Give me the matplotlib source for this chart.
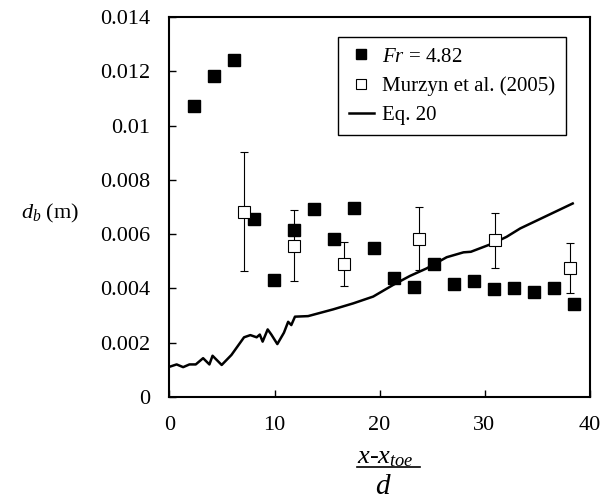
import numpy as np
import matplotlib
matplotlib.use('Agg')
import matplotlib.pyplot as plt
from matplotlib.ticker import FuncFormatter, MultipleLocator
from matplotlib.lines import Line2D

plt.rcParams['font.family'] = 'Liberation Serif'
plt.rcParams['mathtext.fontset'] = 'custom'
plt.rcParams['mathtext.rm'] = 'Liberation Serif'
plt.rcParams['mathtext.it'] = 'Liberation Serif:italic'

# Fr = 4.82 (present data)
x_fr = [2.36, 4.27, 6.14, 8.08, 9.98, 11.86, 13.79, 15.67, 17.57, 19.5,
        21.4, 23.29, 25.19, 27.1, 29.0, 30.9, 32.8, 34.7, 36.6, 38.5]
db_fr = [0.01073, 0.01181, 0.0124, 0.00657, 0.00431, 0.00614, 0.00691, 0.00583,
         0.00696, 0.00548, 0.00437, 0.00404, 0.0049, 0.00416, 0.00428, 0.00397,
         0.0040, 0.00387, 0.0040, 0.00341]

# Murzyn et al. (2005)
x_mz = [7.12, 11.86, 16.65, 23.8, 31.0, 38.1]
db_mz = [0.00683, 0.00556, 0.00489, 0.00581, 0.00577, 0.00476]
db_mz_hi = [0.00901, 0.00688, 0.0057, 0.0070, 0.00678, 0.00568]
db_mz_lo = [0.00465, 0.00426, 0.0041, 0.00467, 0.00475, 0.00383]

# Eq. 20
x_eq = [0.05, 0.68, 1.3, 1.9, 2.5, 3.2, 3.8, 4.1, 4.97, 5.9, 7.1, 7.7, 8.3, 8.6,
        8.87, 9.35, 9.7, 10.27, 10.9, 11.3, 11.6, 11.95, 13.2, 15.6, 17.5, 19.4,
        21.3, 22.9, 24.5, 26.4, 28.0, 28.7, 30.8, 32.1, 33.4, 35.9, 38.4]
db_eq = [0.00112, 0.0012, 0.0011, 0.0012, 0.0012, 0.00143, 0.0012, 0.00152,
         0.00118, 0.00155, 0.0022, 0.00228, 0.0022, 0.0023, 0.00204, 0.00249,
         0.0023, 0.00195, 0.00237, 0.00277, 0.00265, 0.00296, 0.00298, 0.00323,
         0.00345, 0.0037, 0.00413, 0.00446, 0.00474, 0.00515, 0.00533, 0.00535,
         0.00566, 0.0059, 0.00621, 0.00667, 0.00713]

fig = plt.figure(figsize=(6, 5), dpi=100)
ax = fig.add_axes([0.2825, 0.206, 0.70, 0.76])

err = [np.array(db_mz) - np.array(db_mz_lo), np.array(db_mz_hi) - np.array(db_mz)]
ax.errorbar(x_mz, db_mz, yerr=err, fmt='none', ecolor='black', elinewidth=0.8,
            capsize=3, capthick=0.8, zorder=2)
ax.plot(x_eq, db_eq, color='black', lw=1.8, zorder=3)
ax.plot(x_fr, db_fr, 's', color='black', ms=8, zorder=4)
ax.plot(x_mz, db_mz, 's', mfc='white', mec='black', mew=0.8, ms=8, zorder=5)

ax.set_xlim(0, 40)
ax.set_ylim(0, 0.014)
ax.xaxis.set_major_locator(MultipleLocator(10))
ax.yaxis.set_major_locator(MultipleLocator(0.002))
ax.yaxis.set_major_formatter(FuncFormatter(lambda v, p: f'{v:g}'))
ax.tick_params(direction='in', length=5, width=1, labelsize=16, pad=14)
for s in ax.spines.values():
    s.set_linewidth(1.5)

ax.set_ylabel(r'$d_b$ (m)', rotation=0, fontsize=16, ha='center', va='center')
ax.yaxis.set_label_coords(-0.285, 0.484)

handles = [
    Line2D([], [], marker='s', ls='none', color='black', ms=7),
    Line2D([], [], marker='s', ls='none', mfc='white', mec='black', mew=0.8, ms=7),
    Line2D([], [], color='black', lw=1.8),
]
labels = [r'$Fr$ = 4.82', 'Murzyn et al. (2005)', 'Eq. 20']
leg = ax.legend(handles, labels, loc='upper right', bbox_to_anchor=(0.943, 0.948),
                borderaxespad=0, fontsize=15, fancybox=False, framealpha=1,
                edgecolor='black', handlelength=1.2, handletextpad=0.4,
                labelspacing=0.45, borderpad=0.5)
leg.get_frame().set_linewidth(1.0)

# fraction-style x label
fig.text(385 / 600, 1 - 458 / 500, r'$x$-$x_{toe}$', fontsize=19, ha='center', va='center')
fig.add_artist(Line2D([357 / 600, 420 / 600], [1 - 467 / 500, 1 - 467 / 500],
                      color='black', lw=1.2, transform=fig.transFigure))
fig.text(383 / 600, 1 - 487 / 500, r'$d$', fontsize=21, ha='center', va='center')

fig.savefig('out.png', dpi=100)
